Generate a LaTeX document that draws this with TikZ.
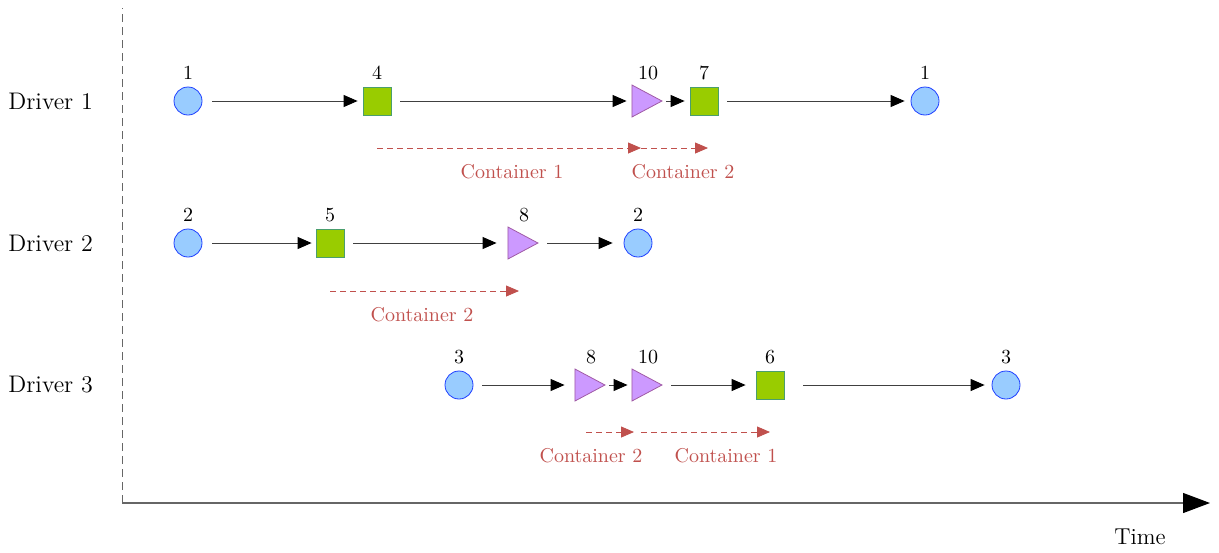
\documentclass[tikz,border=0pt]{standalone}
\usetikzlibrary{arrows.meta,shapes.geometric}
\definecolor{cfill}{HTML}{99CCFF}
\definecolor{cdraw}{HTML}{1F3FFF}
\definecolor{sfill}{HTML}{99CC00}
\definecolor{sdraw}{HTML}{4A9E6E}
\definecolor{tfill}{HTML}{CC99FF}
\definecolor{tdraw}{HTML}{A05AA5}
\definecolor{cred}{HTML}{C0504D}
\tikzset{
  depot/.style={circle,draw=cdraw,fill=cfill,minimum size=14pt,inner sep=0pt,line width=0.4pt},
  cust/.style={rectangle,draw=sdraw,fill=sfill,minimum size=14pt,inner sep=0pt,line width=0.4pt},
  term/.style={isosceles triangle,isosceles triangle stretches,draw=tdraw,fill=tfill,minimum height=15pt,minimum width=16pt,inner sep=0pt,line width=0.4pt,anchor=apex},
  num/.style={font=\fontsize{10}{12}\selectfont,inner sep=0pt},
  drv/.style={font=\fontsize{12}{14}\selectfont,inner sep=0pt,anchor=west},
  cont/.style={font=\fontsize{10}{12}\selectfont,text=cred,inner sep=0pt},
  flow/.style={draw=black!75,line width=0.5pt,-{Triangle[length=7pt,width=6pt,black]}},
  cflow/.style={draw=cred,dash pattern=on 3pt off 2pt,line width=0.4pt,-{Triangle[length=6.5pt,width=5.5pt,cred]}},
}
\begin{document}
\begin{tikzpicture}[x=0.5pt,y=-0.5pt]
\useasboundingbox (0,0) rectangle (1219,552);
% axes
\coordinate (ytop) at (122,8);
\coordinate (orig) at (122,503);
\coordinate (xend) at (1210,503);
\draw[black!60,dash pattern=on 4pt off 2.5pt,line width=0.5pt] (orig) -- (ytop);
\draw[black!60,line width=0.6pt,-{Triangle[length=13.5pt,width=10pt,black]}] (orig) -- (xend);
\node[font=\fontsize{11.5}{14}\selectfont,inner sep=0pt] (time) at (1140,537) {Time};
% driver labels
\node[drv] (d1) at (8,101) {Driver 1};
\node[drv] (d2) at (8,243) {Driver 2};
\node[drv] (d3) at (8,385) {Driver 3};
% row 1
\node[depot] (a1) at (188,101) {};
\node[cust] (a4) at (377,101) {};
\node[term] (a10) at (663,101) {};
\node[cust] (a7) at (704,101) {};
\node[depot] (a1e) at (925,101) {};
\node[num] at (188,73) {1};
\node[num] at (377,73) {4};
\node[num] at (648,73) {10};
\node[num] at (704,73) {7};
\node[num] at (925,73) {1};
\draw[flow,shorten <=5pt,shorten >=2.5pt] (a1) -- (a4);
\draw[flow,shorten <=4.5pt,shorten >=2.5pt] (a4) -- (a10);
\draw[flow,shorten <=1.5pt,shorten >=2.5pt] (a10) -- (a7);
\draw[flow,shorten <=4.5pt,shorten >=3pt] (a7) -- (a1e);
\coordinate (r1a) at (377,148);
\coordinate (r1b) at (641,148);
\coordinate (r1c) at (708,148);
\draw[cflow] (r1a) -- (r1b);
\draw[cflow] (r1b) -- (r1c);
\node[cont] (c11) at (512,172) {Container 1};
\node[cont] (c12) at (683,172) {Container 2};
% row 2
\node[depot] (b2) at (188,243) {};
\node[cust] (b5) at (330,243) {};
\node[term] (b8) at (539,243) {};
\node[depot] (b2e) at (638,243) {};
\node[num] at (188,215) {2};
\node[num] at (330,215) {5};
\node[num] at (524,215) {8};
\node[num] at (638,215) {2};
\draw[flow,shorten <=5pt,shorten >=2pt] (b2) -- (b5);
\draw[flow,shorten <=4.5pt,shorten >=5.5pt] (b5) -- (b8);
\draw[flow,shorten <=4pt,shorten >=5.5pt] (b8) -- (b2e);
\coordinate (r2a) at (330,291);
\coordinate (r2b) at (519,291);
\draw[cflow] (r2a) -- (r2b);
\node[cont] (c22) at (422,315) {Container 2};
% row 3
\node[depot] (e3) at (459,385) {};
\node[term] (e8) at (606,385) {};
\node[term] (e10) at (663,385) {};
\node[cust] (e6) at (770,385) {};
\node[depot] (e3e) at (1006,385) {};
\node[num] at (459,357) {3};
\node[num] at (591,357) {8};
\node[num] at (648,357) {10};
\node[num] at (770,357) {6};
\node[num] at (1006,357) {3};
\draw[flow,shorten <=4.5pt,shorten >=5pt] (e3) -- (e8);
\draw[flow,shorten <=1.5pt,shorten >=2pt] (e8) -- (e10);
\draw[flow,shorten <=4pt,shorten >=5pt] (e10) -- (e6);
\draw[flow,shorten <=9.5pt,shorten >=3.5pt] (e6) -- (e3e);
\coordinate (r3a) at (586,432);
\coordinate (r3b) at (634,432);
\coordinate (r3c) at (641,432);
\coordinate (r3d) at (770,432);
\draw[cflow] (r3a) -- (r3b);
\draw[cflow] (r3c) -- (r3d);
\node[cont] (c32) at (591,456) {Container 2};
\node[cont] (c31) at (726,456) {Container 1};
\end{tikzpicture}
\end{document}
